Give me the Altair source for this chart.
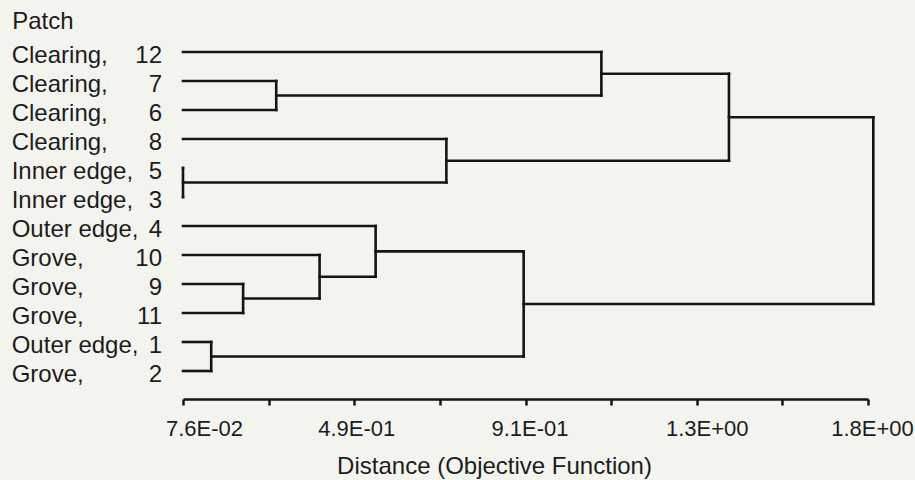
import altair as alt
import pandas as pd

# ---- data ----
leaf_names = ["Clearing,", "Clearing,", "Clearing,", "Clearing,", "Inner edge,", "Inner edge,",
              "Outer edge,", "Grove,", "Grove,", "Grove,", "Outer edge,", "Grove,"]
leaf_ids = ["12", "7", "6", "8", "5", "3", "4", "10", "9", "11", "1", "2"]
leaf_distance = 0.076

merge_names = ["A", "B", "C", "D", "E", "F", "G", "H", "I", "J", "K"]
merge_left = ["7", "5", "9", "1", "10", "4", "8", "F", "12", "I", "J"]
merge_right = ["6", "3", "11", "2", "C", "E", "B", "D", "A", "G", "H"]
merge_heights = [0.304, 0.076, 0.223, 0.145, 0.410, 0.547, 0.720, 0.909, 1.099, 1.411, 1.764]

tick_values = [0.076, 0.2854, 0.4948, 0.7041, 0.9135, 1.1229, 1.3323, 1.5416, 1.751]
tick_labels = ["7.6E-02", "4.9E-01", "9.1E-01", "1.3E+00", "1.8E+00"]
label_offsets = [21, 2, 4, 10, 4]

# ---- build dendrogram segments ----
pos = {leaf: (leaf_distance, i) for i, leaf in enumerate(leaf_ids)}
segs = []
for name, l, r, h in zip(merge_names, merge_left, merge_right, merge_heights):
    xl, yl = pos[l]
    xr, yr = pos[r]
    segs.append({"x": xl, "x2": h, "y": yl, "y2": yl})
    segs.append({"x": xr, "x2": h, "y": yr, "y2": yr})
    segs.append({"x": h, "x2": h, "y": yl, "y2": yr})
    pos[name] = (h, (yl + yr) / 2)
seg_df = pd.DataFrame(segs)

leaf_df = pd.DataFrame({"y": list(range(len(leaf_ids))), "name": leaf_names, "id": leaf_ids})

FONT = "Liberation Sans"
INK = "#141414"
TXT = "#1c1c1c"

major_values = tick_values[0::2]
label_expr = "''"
for v, t in reversed(list(zip(major_values, tick_labels))):
    label_expr = f"abs(datum.value - {v}) < 0.01 ? '{t}' : ({label_expr})"

offset_cond = {
    "condition": [{"test": f"abs(datum.value - {v}) < 0.01", "value": o}
                  for v, o in zip(major_values, label_offsets)],
    "value": 0,
}

x_scale = alt.Scale(domain=[0.076, 1.751], nice=False, zero=False)
y_scale = alt.Scale(domain=[-1, 11.966], reverse=True, nice=False, zero=False)

y_axis = alt.Axis(title="Patch", labels=False, ticks=False, domain=False, grid=False,
                  titleAngle=0, titleAlign="left", titleBaseline="alphabetic",
                  titleX=-171.3, titleY=5.3, titleFont=FONT, titleFontSize=24,
                  titleFontWeight="normal", titleColor=TXT)

x_axis = alt.Axis(values=tick_values, labelExpr=label_expr, labelOffset=offset_cond,
                  title="Distance (Objective Function)", grid=False,
                  tickSize=6, tickWidth=2.5, tickColor=INK, domainColor=INK, domainWidth=2.5,
                  labelFont=FONT, labelFontSize=22, labelColor=TXT, labelBaseline="alphabetic",
                  labelPadding=30, labelFlush=False, labelOverlap=False,
                  titleFont=FONT, titleFontSize=24, titleFontWeight="normal", titleColor=TXT,
                  titleX=311, titleY=74, titleBaseline="alphabetic", titleAlign="center")

rules = alt.Chart(seg_df).mark_rule(color=INK, strokeWidth=2.6, strokeCap="square").encode(
    x=alt.X("x:Q", scale=x_scale, axis=x_axis),
    x2="x2:Q",
    y=alt.Y("y:Q", scale=y_scale, axis=y_axis),
    y2="y2:Q",
)

names = alt.Chart(leaf_df).mark_text(align="left", baseline="alphabetic", dy=11,
                                      font=FONT, fontSize=24, color=TXT).encode(
    x=alt.value(-171.3),
    y=alt.Y("y:Q", scale=y_scale, axis=y_axis),
    text="name:N",
)

ids = alt.Chart(leaf_df).mark_text(align="right", baseline="alphabetic", dy=11,
                                    font=FONT, fontSize=24, color=TXT).encode(
    x=alt.value(-21),
    y=alt.Y("y:Q", scale=y_scale, axis=y_axis),
    text="id:N",
)

chart = alt.layer(rules, names, ids).properties(
    width=685, height=376,
    padding={"left": 183, "top": 23, "right": 47, "bottom": 81},
    autosize=alt.AutoSizeParams(type="none"),
    background="#f4f4ef",
).configure_view(stroke=None)

chart.save("out.html", embed_options={"renderer": "svg", "actions": False})
